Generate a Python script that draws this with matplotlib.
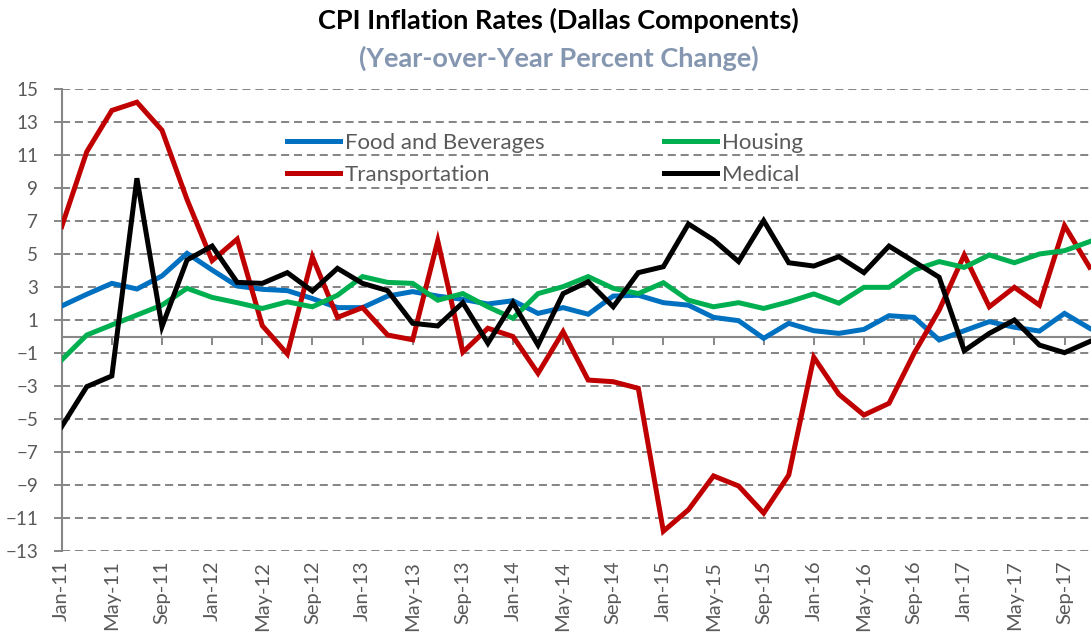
import matplotlib
matplotlib.use("Agg")
import matplotlib.pyplot as plt

plt.rcParams['font.family'] = ['Lato', 'DejaVu Sans']

# ---- data (bimonthly, Jan-11 .. Nov-17) ----
months = ["Jan", "Mar", "May", "Jul", "Sep", "Nov"]
periods = [f"{m}-{y:02d}" for y in range(11, 18) for m in months]

food = [1.85, 2.56, 3.22, 2.88, 3.67, 5.04, 4.03, 3.06, 2.86, 2.78,
        2.3, 1.75, 1.75, 2.45, 2.72, 2.45, 2.25, 1.97, 2.17, 1.4,
        1.75, 1.35, 2.45, 2.5, 2.05, 1.9, 1.16, 0.96, -0.11, 0.8,
        0.35, 0.19, 0.43, 1.26, 1.16, -0.21, 0.35, 0.9, 0.56, 0.33,
        1.4, 0.5]
housing = [-1.42, 0.09, 0.7, 1.3, 1.9, 2.92, 2.37, 2.05, 1.7, 2.1,
           1.8, 2.5, 3.63, 3.28, 3.22, 2.2, 2.6, 1.8, 1.1, 2.6,
           3.02, 3.63, 2.92, 2.6, 3.26, 2.2, 1.8, 2.05, 1.7, 2.1,
           2.58, 2.02, 2.98, 2.98, 4.03, 4.54, 4.19, 4.94, 4.47, 5.0,
           5.2, 5.75]
transport = [6.66, 11.2, 13.7, 14.2, 12.5, 8.3, 4.6, 5.9, 0.66, -1.06,
             4.82, 1.16, 1.75, 0.09, -0.2, 5.8, -0.95, 0.5, 0.0, -2.23,
             0.29, -2.64, -2.74, -3.14, -11.8, -10.5, -8.45, -9.06, -10.7, -8.4,
             -1.26, -3.5, -4.76, -4.05, -1.02, 1.6, 4.94, 1.8, 2.98, 1.9,
             6.72, 4.2]
medical = [-5.46, -3.04, -2.39, 9.59, 0.6, 4.64, 5.48, 3.28, 3.22, 3.87,
           2.75, 4.13, 3.22, 2.78, 0.8, 0.64, 2.05, -0.41, 2.05, -0.52,
           2.6, 3.32, 1.8, 3.87, 4.23, 6.82, 5.85, 4.54, 7.02, 4.47,
           4.27, 4.84, 3.87, 5.48, 4.54, 3.59, -0.86, 0.19, 1.0, -0.52,
           -0.98, -0.31]

series_names = ["Food and Beverages", "Transportation", "Housing", "Medical"]
series_colors = ["#0070C0", "#C00000", "#00B050", "#000000"]
yticks = list(range(-13, 16, 2))

# ---- figure ----
W, H = 1091, 638
fig = plt.figure(figsize=(W / 100, H / 100), dpi=100)
left_px, top_px, bot_px = 61.7, 89, 551
ax = fig.add_axes([left_px / W, 1 - bot_px / H, 1 - left_px / W, (bot_px - top_px) / H])

x = list(range(len(periods)))
data = [food, transport, housing, medical]
handles = []
for vals, name, col in zip(data, series_names, series_colors):
    ln, = ax.plot(x, vals, color=col, lw=3.6, solid_joinstyle='miter', label=name, zorder=3)
    handles.append(ln)

step_px = 25.07
ax.set_xlim(0, (W - left_px) / step_px)
ax.set_ylim(-13, 15)

grey = "#878787"
txtgrey = "#595959"
ax.set_yticks(yticks)
ax.yaxis.grid(True, color=grey, lw=1.45, linestyle=(0, (4, 2.4)), zorder=1)
ax.set_axisbelow(True)
ax.tick_params(axis='y', direction='out', length=6, width=1.4, color=grey,
               labelsize=13.5, labelcolor=txtgrey, pad=11)

for s in ['top', 'right']:
    ax.spines[s].set_visible(False)
ax.spines['left'].set_color(grey)
ax.spines['left'].set_linewidth(1.5)
ax.spines['bottom'].set_position(('data', 0))
ax.spines['bottom'].set_color(grey)
ax.spines['bottom'].set_linewidth(1.5)

tick_idx = x[::2]
ax.set_xticks(tick_idx)
ax.tick_params(axis='x', direction='out', length=6, width=1.4, color=grey,
               labelbottom=False)

sec = ax.secondary_xaxis(0)
sec.set_xticks(tick_idx)
sec.set_xticklabels([periods[i] for i in tick_idx], rotation=90, va='top', ha='center')
sec.tick_params(axis='x', length=0, pad=7, labelsize=14.5, labelcolor=txtgrey)
sec.spines['bottom'].set_visible(False)

ax_w = W - left_px
leg = ax.legend(handles=handles, labels=series_names, ncol=2, frameon=False,
                loc='upper left', bbox_to_anchor=((287 - left_px) / ax_w, (bot_px - 133) / (bot_px - top_px)),
                fontsize=16, handlelength=2.38, handletextpad=0.22, columnspacing=5.4,
                labelspacing=0.55, borderaxespad=0, borderpad=0)
for t in leg.get_texts():
    t.set_color(txtgrey)
for lh in leg.get_lines():
    lh.set_linewidth(3.6)

fig.text(0.512, 1 - 20 / H, "CPI Inflation Rates (Dallas Components)", ha='center', va='center',
         fontsize=19.5, fontweight='bold', color='black')
fig.text(0.512, 1 - 58 / H, "(Year-over-Year Percent Change)", ha='center', va='center',
         fontsize=19.5, fontweight='bold', color='#8496B0')

fig.savefig("out.png", dpi=100)
